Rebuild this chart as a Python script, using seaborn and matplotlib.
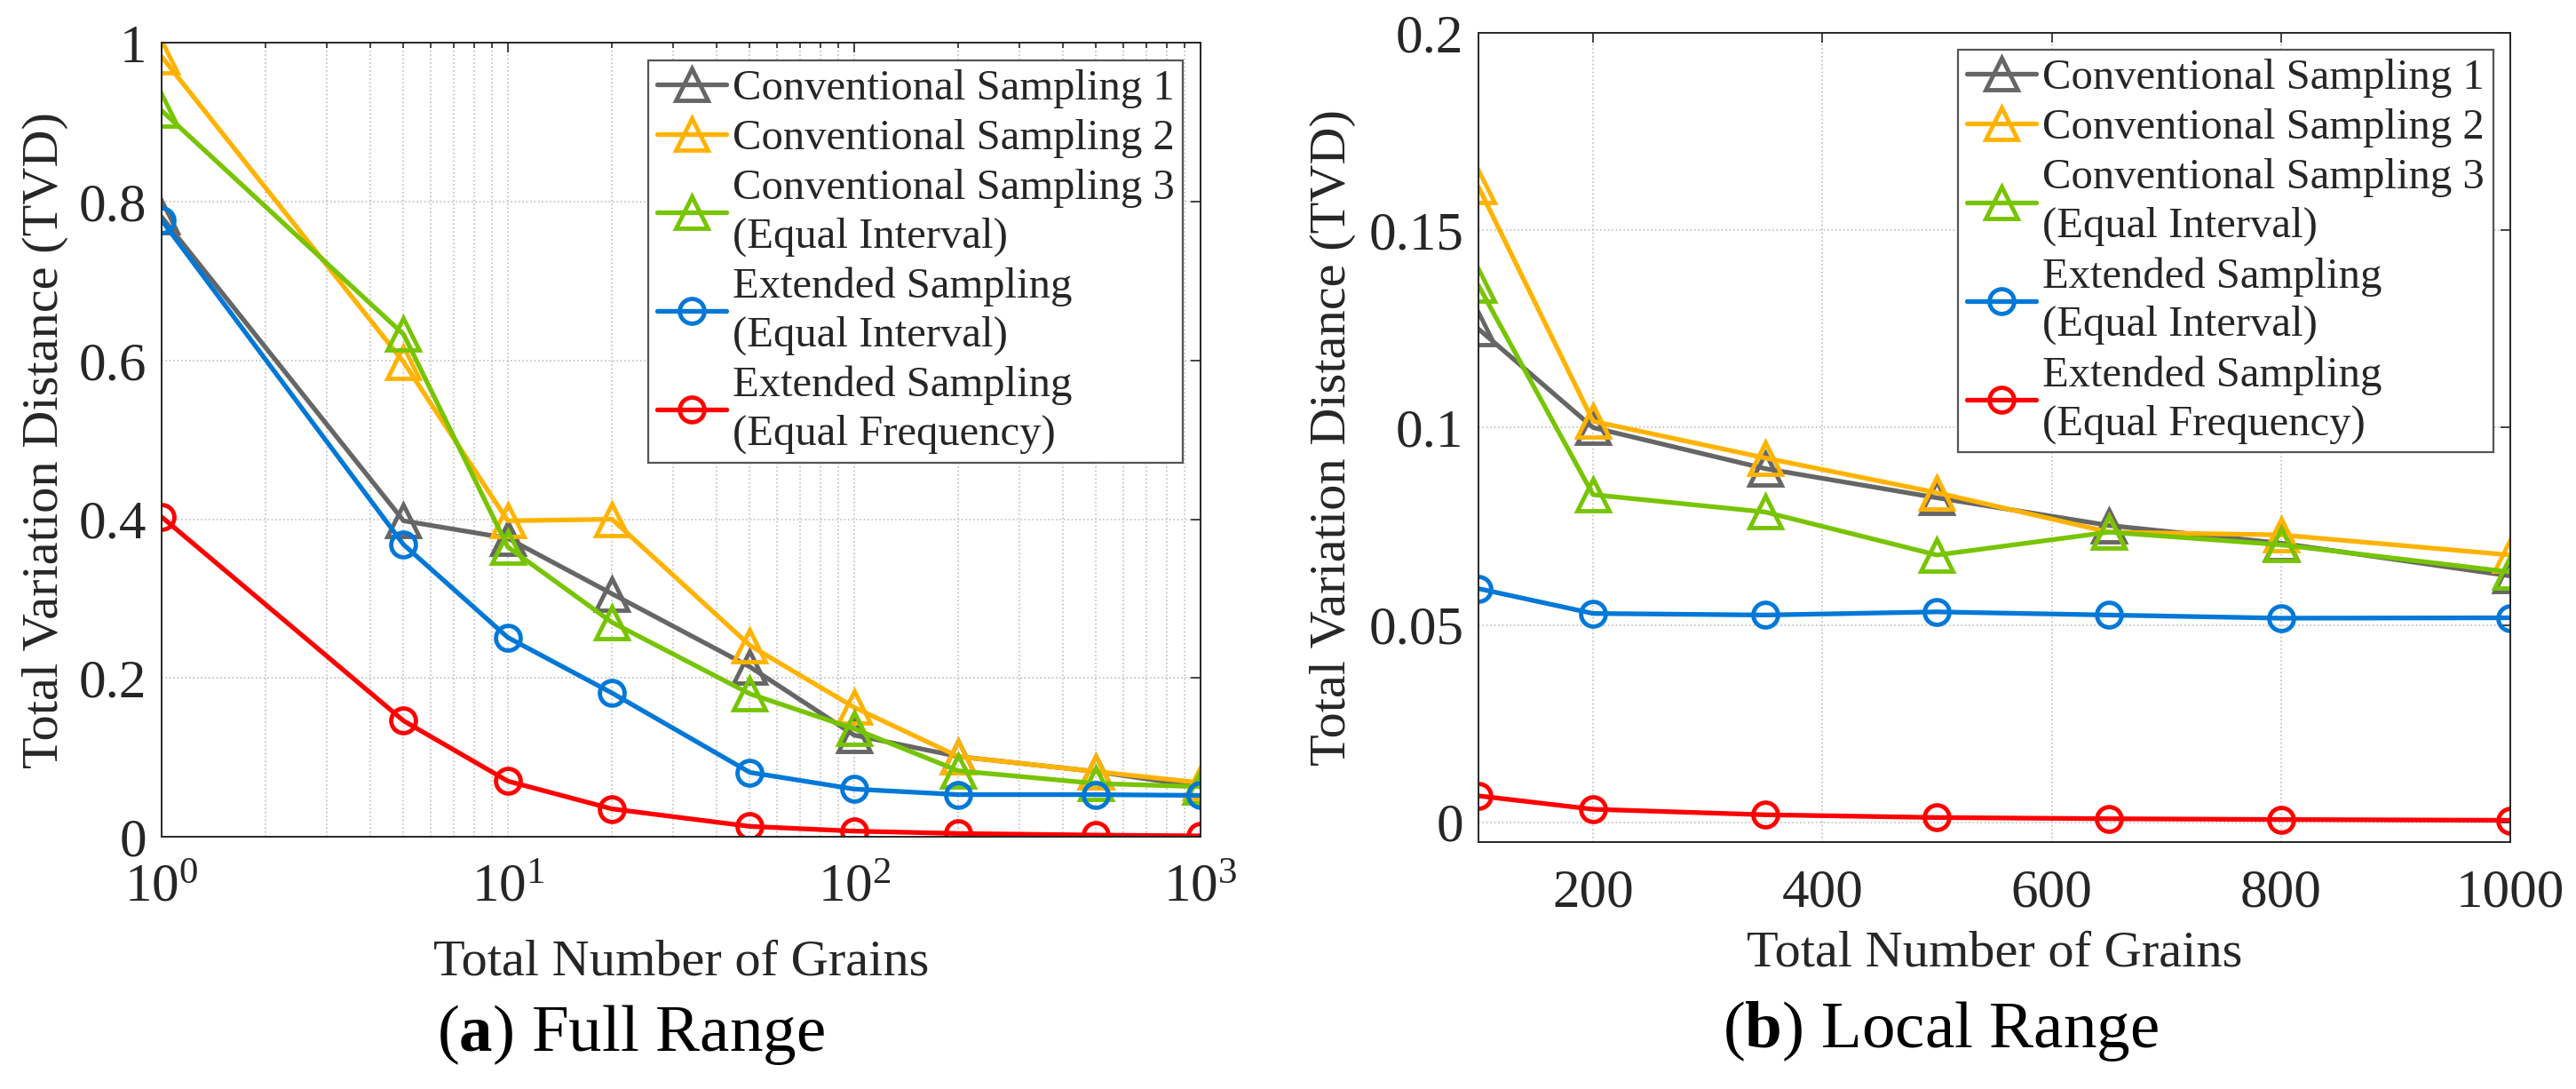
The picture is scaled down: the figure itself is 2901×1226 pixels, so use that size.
import matplotlib
matplotlib.use('Agg')
import matplotlib.pyplot as plt
import seaborn as sns

# values
series_names = ['Conventional Sampling 1', 'Conventional Sampling 2',
                'Conventional Sampling 3\n(Equal Interval)',
                'Extended Sampling\n(Equal Interval)',
                'Extended Sampling\n(Equal Frequency)']
series_colors = ['#666666', '#FFB300', '#77C400', '#0078D7', '#FF0000']
series_markers = ['^', '^', '^', 'o', 'o']

# (a) full range, log x
full_grains = [1, 5, 10, 20, 50, 100, 200, 500, 1000]
full_cs1 = [0.781, 0.398, 0.376, 0.306, 0.214, 0.128, 0.101, 0.082, 0.063]
full_cs2 = [0.983, 0.598, 0.398, 0.400, 0.241, 0.163, 0.101, 0.082, 0.068]
full_cs3 = [0.915, 0.633, 0.365, 0.270, 0.180, 0.136, 0.083, 0.067, 0.063]
full_es_ei = [0.777, 0.368, 0.251, 0.181, 0.081, 0.060, 0.053, 0.053, 0.052]
full_es_ef = [0.403, 0.146, 0.070, 0.035, 0.013, 0.007, 0.004, 0.002, 0.001]
full_yticks = [0, 0.2, 0.4, 0.6, 0.8, 1]
full_ylabels = ['0', '0.2', '0.4', '0.6', '0.8', '1']

# (b) local range
local_grains = [100, 200, 350, 500, 650, 800, 1000]
local_cs1 = [0.125, 0.100, 0.0896, 0.0822, 0.0752, 0.0707, 0.0624]
local_cs2 = [0.161, 0.1016, 0.0923, 0.0835, 0.0735, 0.0728, 0.0677]
local_cs3 = [0.136, 0.083, 0.0786, 0.0677, 0.0735, 0.0703, 0.0634]
local_es_ei = [0.0592, 0.0529, 0.0525, 0.0533, 0.0525, 0.0517, 0.0518]
local_es_ef = [0.0067, 0.0033, 0.0019, 0.0012, 0.0009, 0.0007, 0.0005]
local_xticks = [200, 400, 600, 800, 1000]
local_yticks = [0, 0.05, 0.1, 0.15, 0.2]
local_ylabels = ['0', '0.05', '0.1', '0.15', '0.2']

sns.set_style('white')
plt.rcParams['font.family'] = ['Liberation Serif', 'DejaVu Serif']
plt.rcParams['mathtext.fontset'] = 'custom'
plt.rcParams['mathtext.rm'] = 'Liberation Serif'
plt.rcParams['mathtext.it'] = 'Liberation Serif:italic'
plt.rcParams['mathtext.bf'] = 'Liberation Serif:bold'

axis_col = '#262626'
fig = plt.figure(figsize=(29.01, 12.26), dpi=100)
ax1 = fig.add_axes([0.0627, 0.2317, 0.4033, 0.7288])
ax2 = fig.add_axes([0.5739, 0.2268, 0.4006, 0.7431])


def draw_lines(ax, x, ys):
    for name, col, mk, y in zip(series_names, series_colors, series_markers, ys):
        ms = 26 if mk == '^' else 20
        sns.lineplot(x=x, y=y, ax=ax, color=col, marker=mk, ms=ms, mew=3.5,
                     mfc='none', mec=col, lw=3.8, label=name, legend=False)


def style_axes(ax):
    for s in ax.spines.values():
        s.set_color(axis_col)
        s.set_linewidth(1.4)
    ax.tick_params(which='both', direction='in', top=True, right=True,
                   colors=axis_col, labelsize=44, width=1.2)
    ax.tick_params(which='major', length=8)
    ax.tick_params(which='minor', length=4)
    ax.tick_params(axis='x', which='both', pad=22)
    ax.tick_params(axis='y', which='both', pad=12)
    ax.set_ylabel('Total Variation Distance (TVD)', fontsize=42, color=axis_col, va='center')
    ax.set_xlabel('Total Number of Grains', fontsize=42, color=axis_col, va='center')
    leg = ax.legend(loc='upper right', bbox_to_anchor=(1, 1), fontsize=35,
                    frameon=True, fancybox=False, framealpha=1, edgecolor='#555555',
                    handlelength=1.6, handletextpad=0.15, borderpad=0.2,
                    labelspacing=0.25, borderaxespad=0.4)
    leg.get_frame().set_linewidth(1.6)
    for t in leg.get_texts():
        t.set_linespacing(1.3)


# (a) Full Range
draw_lines(ax1, full_grains, [full_cs1, full_cs2, full_cs3, full_es_ei, full_es_ef])
ax1.set_xscale('log')
ax1.set_xlim(1, 1000)
ax1.set_ylim(0, 1)
ax1.set_xticks([1, 10, 100, 1000])
ax1.set_yticks(full_yticks)
ax1.set_yticklabels(full_ylabels)
ax1.grid(which='both', axis='x', ls=':', color='#bfbfbf', lw=1.2)
ax1.grid(which='major', axis='y', ls=':', color='#bfbfbf', lw=1.2)
style_axes(ax1)
ax1.xaxis.set_label_coords(0.5, -0.158)
ax1.yaxis.set_label_coords(-0.112, 0.5)

# (b) Local Range
draw_lines(ax2, local_grains, [local_cs1, local_cs2, local_cs3, local_es_ei, local_es_ef])
ax2.set_xlim(100, 1000)
ax2.set_ylim(-0.005, 0.2)
ax2.set_xticks(local_xticks)
ax2.set_yticks(local_yticks)
ax2.set_yticklabels(local_ylabels)
ax2.grid(which='major', ls=':', color='#bfbfbf', lw=1.2)
style_axes(ax2)
ax2.xaxis.set_label_coords(0.5, -0.138)
ax2.yaxis.set_label_coords(-0.141, 0.5)

fig.text(710 / 2901, 1 - 1165 / 1226, r'($\mathbf{a}$) Full Range', fontsize=54,
         ha='center', va='center', color='black')
fig.text(2185 / 2901, 1 - 1161 / 1226, r'($\mathbf{b}$) Local Range', fontsize=54,
         ha='center', va='center', color='black')

fig.savefig('out.png', dpi=100)
